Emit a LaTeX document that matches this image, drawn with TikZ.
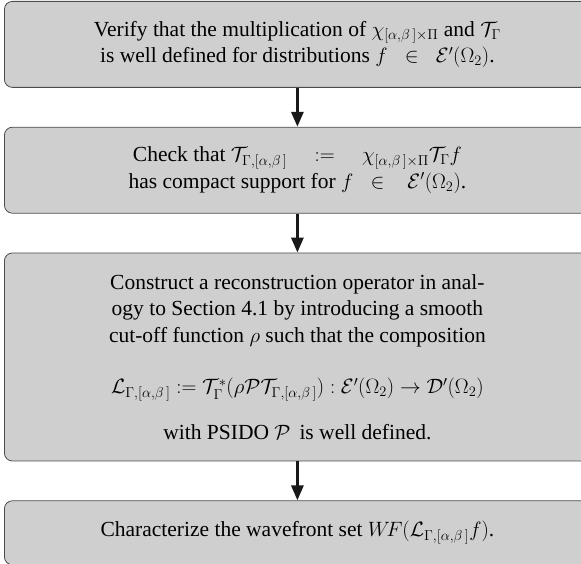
\documentclass[tikz,border=0pt]{standalone}
\usepackage{amsmath}
\usepackage{fontspec}
\setmainfont{Liberation Serif}
\usepackage{xcolor}
\usepackage{tikz}
\usetikzlibrary{positioning,arrows.meta}

\begin{document}
\begin{tikzpicture}[x=1pt, y=1pt,
  node distance=39pt, font=\fontsize{21.5}{26.5}\selectfont,
  box/.style={draw=black!70, fill=black!19, line width=0.8pt, rounded corners=8pt,
    minimum width=586pt, inner sep=0pt, align=center},
  arr/.style={draw=black!90, line width=3pt, -{Triangle[width=12pt,length=15pt]}}]
\path[use as bounding box, clip] (0,0) rectangle (581,564);
\node[box, minimum height=86pt, anchor=north west] (verify) at (4,563)
  {Verify that the multiplication of $\chi_{[\alpha,\beta\,]\times\Pi}$ and $\mathcal{T}_{\Gamma}$\\
   is well defined for distributions $f\;\;\in\;\;\mathcal{E}'(\Omega_2)$.};
\node[box, minimum height=86pt, below=of verify] (check)
  {Check that $\mathcal{T}_{\Gamma,[\alpha,\beta\,]}\quad:=\quad\chi_{[\alpha,\beta\,]\times\Pi}\mathcal{T}_{\Gamma}f$\\
   has compact support for $f\;\;\in\;\;\;\mathcal{E}'(\Omega_2)$.};
\node[box, minimum height=208pt, below=of check] (construct)
  {Construct a reconstruction operator in anal-\\
   ogy to Section 4.1 by introducing a smooth\\
   cut-off function $\rho$ such that the composition\\[25pt]
   $\mathcal{L}_{\Gamma,[\alpha,\beta\,]}:=\mathcal{T}_{\Gamma}^{*}(\rho\mathcal{P}\mathcal{T}_{\Gamma,[\alpha,\beta\,]}):\mathcal{E}'(\Omega_2)\to\mathcal{D}'(\Omega_2)$\\[19pt]
   with PSIDO $\mathcal{P}$\, is well defined.};
\node[box, minimum height=64pt, below=of construct] (wavefront)
  {Characterize the wavefront set $W\!F(\mathcal{L}_{\Gamma,[\alpha,\beta\,]}f)$.};
\draw[arr] (verify) -- (check);
\draw[arr] (check) -- (construct);
\draw[arr] (construct) -- (wavefront);
\end{tikzpicture}
\end{document}
